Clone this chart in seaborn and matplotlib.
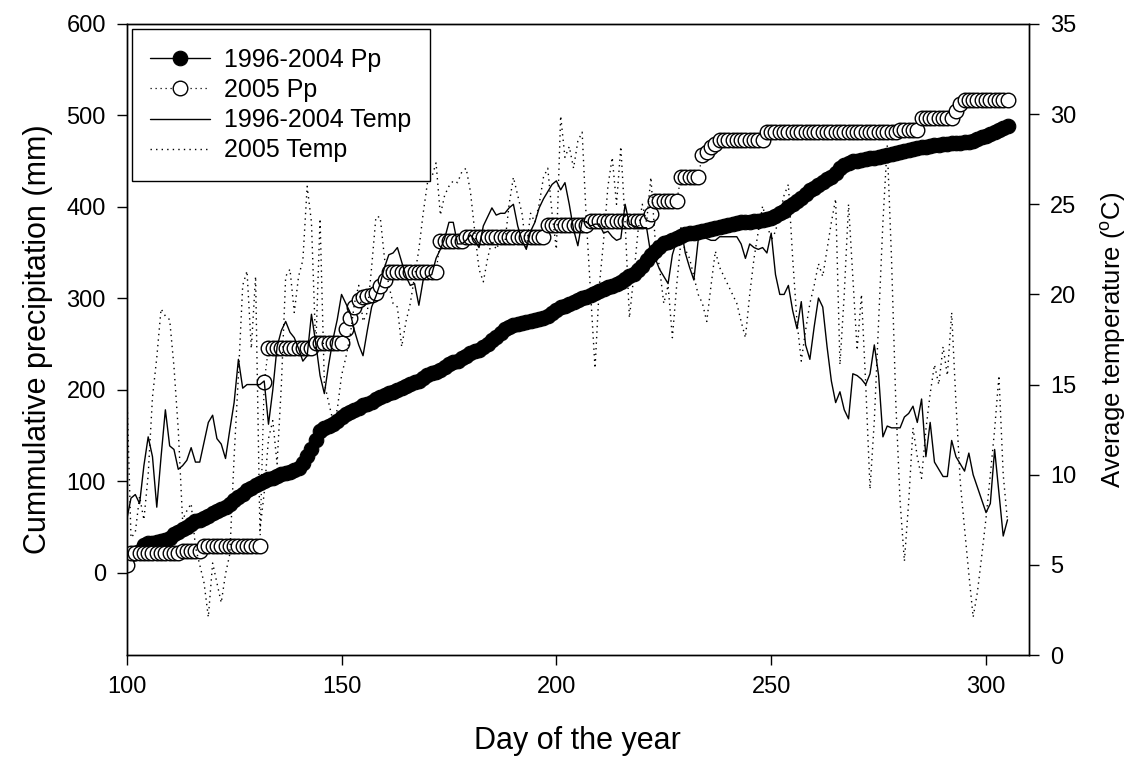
import matplotlib
matplotlib.use("Agg")
import matplotlib.pyplot as plt
import seaborn as sns

days = list(range(100, 306))

# 1996-2004 mean cumulative precipitation (mm)
pp_mean = [
    18, 20, 22, 24, 30, 32, 33, 34, 35, 36,
    38, 42, 45, 48, 50, 53, 56, 58, 60, 62,
    65, 67, 70, 72, 75, 80, 83, 86, 90, 93,
    96, 98, 100, 102, 104, 106, 108, 109, 110, 112,
    115, 120, 128, 135, 145, 155, 158, 160, 163, 166,
    170, 173, 176, 178, 180, 183, 185, 187, 190, 192,
    194, 196, 198, 200, 202, 204, 206, 208, 210, 213,
    216, 218, 220, 222, 225, 228, 230, 232, 235, 237,
    240, 242, 244, 247, 250, 254, 258, 262, 266, 269,
    271, 272, 273, 274, 275, 276, 277, 279, 281, 284,
    287, 290, 292, 294, 296, 298, 300, 302, 304, 306,
    308, 310, 312, 314, 316, 318, 321, 324, 327, 331,
    335, 342, 347, 352, 356, 360, 362, 364, 366, 368,
    370, 371, 372, 373, 374, 375, 376, 377, 378, 379,
    380, 381, 382, 383, 383, 384, 385, 385, 386, 387,
    388, 390, 393, 396, 400, 403, 406, 410, 414, 418,
    421, 424, 427, 430, 433, 437, 442, 446, 448, 450,
    450, 451, 452, 453, 454, 455, 456, 457, 458, 459,
    460, 461, 462, 463, 464, 465, 466, 467, 468, 468,
    469, 469, 470, 470, 470, 471, 471, 472, 474, 476,
    478, 480, 482, 484, 486, 488,
]

# 2005 cumulative precipitation (mm)
pp_2005 = [
    8, 21, 21, 21, 21, 22, 22, 22, 22, 22,
    22, 22, 22, 24, 24, 24, 24, 24, 29, 29,
    29, 29, 29, 29, 29, 29, 29, 29, 29, 29,
    29, 29, 208, 246, 246, 246, 246, 246, 246, 246,
    246, 246, 246, 246, 251, 251, 251, 251, 251, 251,
    251, 266, 278, 290, 298, 302, 303, 304, 306, 314,
    320, 329, 329, 329, 329, 329, 329, 329, 329, 329,
    329, 329, 329, 363, 363, 363, 363, 363, 363, 367,
    367, 367, 367, 367, 367, 367, 367, 367, 367, 367,
    367, 367, 367, 367, 367, 367, 367, 367, 380, 380,
    380, 380, 380, 380, 380, 380, 380, 380, 385, 385,
    385, 385, 385, 385, 385, 385, 385, 385, 385, 385,
    385, 385, 392, 406, 406, 406, 406, 406, 406, 433,
    433, 433, 433, 433, 457, 460, 465, 469, 473, 473,
    473, 473, 473, 473, 473, 473, 473, 473, 473, 482,
    482, 482, 482, 482, 482, 482, 482, 482, 482, 482,
    482, 482, 482, 482, 482, 482, 482, 482, 482, 482,
    482, 482, 482, 482, 482, 482, 482, 482, 482, 482,
    484, 484, 484, 484, 484, 497, 497, 497, 497, 497,
    497, 497, 497, 505, 512, 517, 517, 517, 517, 517,
    517, 517, 517, 517, 517, 517,
]

# 1996-2004 mean daily temperature (C)
temp_mean = [
    7.5, 8.7, 8.9, 8.4, 10.5, 12.1, 11.0, 8.2, 11.0, 13.6,
    11.6, 11.4, 10.3, 10.5, 10.8, 11.5, 10.7, 10.7, 11.8, 12.9,
    13.3, 12.0, 11.7, 10.9, 12.5, 14.0, 16.4, 14.8, 15.0, 15.0,
    15.0, 15.0, 15.2, 12.8, 14.7, 17.1, 18.0, 18.5, 17.9, 17.6,
    17.0, 16.3, 16.6, 18.9, 17.3, 15.5, 14.5, 16.1, 17.5, 18.6,
    20.0, 19.5, 19.0, 18.0, 17.2, 16.6, 18.0, 19.3, 19.9, 20.6,
    21.5, 22.2, 22.3, 22.6, 21.8, 21.0, 20.5, 20.6, 19.4, 20.8,
    21.0, 21.1, 22.0, 22.5, 23.1, 24.0, 24.0, 22.8, 22.8, 23.0,
    23.3, 23.0, 22.6, 23.8, 24.3, 24.8, 24.4, 24.5, 24.5, 24.8,
    25.0, 23.8, 23.0, 22.5, 23.5, 24.0, 24.8, 25.3, 25.7, 26.1,
    26.3, 25.8, 26.2, 25.0, 23.6, 22.7, 24.1, 24.0, 23.8, 23.9,
    23.9, 23.4, 23.5, 23.2, 23.0, 23.1, 25.0, 23.9, 23.8, 23.7,
    23.7, 23.7, 22.2, 22.0, 21.4, 21.0, 20.6, 22.2, 23.0, 23.7,
    22.3, 21.5, 20.8, 23.0, 23.2, 23.1, 23.0, 23.0, 23.2, 23.2,
    23.2, 23.2, 23.2, 22.8, 22.0, 22.8, 22.6, 22.5, 22.6, 22.3,
    23.4, 21.1, 20.0, 20.0, 20.5, 19.1, 18.1, 19.6, 17.2, 16.4,
    18.2, 19.8, 19.3, 17.1, 15.2, 14.0, 14.6, 13.6, 13.1, 15.6,
    15.5, 15.3, 15.0, 15.6, 17.2, 15.5, 12.1, 12.7, 12.6, 12.6,
    12.6, 13.2, 13.4, 13.8, 12.9, 14.2, 11.0, 12.9, 10.7, 10.3,
    9.9, 9.9, 11.9, 11.0, 10.6, 10.2, 11.2, 10.0, 9.3, 8.6,
    7.9, 8.4, 11.4, 9.0, 6.6, 7.5,
]

# 2005 daily temperature (C)
temp_2005 = [
    15.0, 6.5, 6.8, 8.8, 7.5, 10.0, 14.3, 16.5, 19.2, 18.8,
    18.6, 16.0, 12.5, 7.5, 8.0, 8.4, 6.0, 5.0, 4.0, 2.1,
    5.1, 4.0, 2.9, 4.5, 5.6, 11.0, 15.5, 20.5, 21.3, 17.0,
    21.0, 6.9, 9.0, 12.0, 13.0, 10.6, 15.0, 21.0, 21.4, 19.0,
    21.0, 21.9, 26.0, 24.0, 17.0, 24.2, 15.1, 14.0, 13.0, 13.6,
    15.5, 16.5, 17.7, 19.5, 20.5, 18.5, 19.0, 21.5, 24.3, 24.3,
    22.0, 20.5, 19.5, 19.3, 17.1, 18.5, 19.5, 21.0, 22.5, 24.5,
    26.2, 26.5, 27.3, 24.4, 25.5, 26.0, 26.3, 26.2, 26.8, 27.0,
    25.7, 23.5, 21.4, 20.7, 22.0, 23.0, 22.5, 23.0, 22.8, 25.0,
    26.5, 25.5, 24.5, 22.5, 24.5, 24.0, 25.0, 26.5, 27.0, 24.5,
    22.5, 29.9, 27.6, 28.2, 27.0, 28.5, 29.0, 24.0, 20.0, 15.9,
    20.5, 23.0, 26.0, 27.6, 25.0, 28.2, 24.0, 18.7, 21.0, 23.5,
    25.0, 24.0, 26.5, 23.0, 21.5, 19.5, 20.5, 17.6, 20.5, 23.0,
    22.5, 22.0, 21.0, 20.0, 19.5, 18.5, 20.5, 22.4, 21.5, 21.0,
    20.5, 20.0, 19.5, 18.5, 17.6, 20.0, 22.0, 23.5, 24.9, 24.0,
    23.0, 23.5, 24.5, 25.5, 26.1, 22.0, 18.5, 16.3, 18.0, 19.5,
    20.5, 21.7, 21.0, 22.5, 24.0, 25.3, 16.1, 20.0, 25.0, 21.0,
    16.9, 20.0, 15.0, 9.2, 13.0, 18.5, 24.0, 28.3, 22.0, 14.0,
    8.5, 5.2, 8.5, 12.6, 11.0, 9.8, 12.5, 14.5, 16.1, 15.0,
    17.1, 15.5, 19.0, 14.0, 9.6, 7.0, 4.5, 2.1, 3.5, 5.5,
    7.6, 10.0, 12.5, 15.5, 10.0, 7.4,
]

labels = ["1996-2004 Pp", "2005 Pp", "1996-2004 Temp", "2005 Temp"]

sns.set_style("ticks")
plt.rcParams["font.family"] = ["Liberation Sans", "DejaVu Sans"]
plt.rcParams["mathtext.default"] = "regular"
for key in ("text.color", "axes.labelcolor", "xtick.color", "ytick.color",
            "axes.edgecolor"):
    plt.rcParams[key] = "black"

fig = plt.figure(figsize=(11.33, 7.59), dpi=100)
ax = fig.add_axes([126.7 / 1133, 1 - 655 / 759, 902.3 / 1133, 631 / 759])
ax2 = ax.twinx()

dots = (0, (1, 3))

sns.lineplot(x=days, y=pp_mean, ax=ax, estimator=None, color="black",
             linewidth=1, marker="o", markersize=10.5, markerfacecolor="black",
             markeredgecolor="black", markeredgewidth=0.8)
sns.lineplot(x=days, y=pp_2005, ax=ax, estimator=None, color="black",
             linewidth=0.9, linestyle=dots, marker="o", markersize=10.5,
             markerfacecolor="white", markeredgecolor="black",
             markeredgewidth=1.0)
sns.lineplot(x=days, y=temp_mean, ax=ax2, estimator=None, color="black",
             linewidth=1.0)
sns.lineplot(x=days, y=temp_2005, ax=ax2, estimator=None, color="black",
             linewidth=1.0, linestyle=dots)

ax.set_xlim(100, 310)
ax.set_ylim(-90, 600)
ax2.set_ylim(0, 35)
ax.set_xticks([100, 150, 200, 250, 300])
ax.set_yticks([0, 100, 200, 300, 400, 500, 600])
ax2.set_yticks([0, 5, 10, 15, 20, 25, 30, 35])

for a in (ax, ax2):
    a.tick_params(direction="out", length=7, width=1, labelsize=17,
                  pad=8, colors="black")
    for s in a.spines.values():
        s.set_visible(True)
        s.set_linewidth(1)
        s.set_color("black")

ax.set_xlabel("Day of the year", fontsize=22)
ax.set_ylabel("Cummulative precipitation (mm)", fontsize=22)
ax2.set_ylabel("Average temperature ($^{o}$C)", fontsize=18.5)
ax.xaxis.set_label_coords(0.5, -0.112)
ax.yaxis.set_label_coords(-0.082, 0.5)
ax2.yaxis.set_label_coords(1.078, 0.5)

handles = ax.lines[:2] + ax2.lines[:2]
leg = ax2.legend(handles, labels, loc="upper left", bbox_to_anchor=(0, 1),
                 borderaxespad=0.2, fontsize=18, frameon=True, fancybox=False,
                 framealpha=1, edgecolor="black", handlelength=2.4,
                 handletextpad=0.55, labelspacing=0.25, borderpad=0.75)
leg.get_frame().set_linewidth(1)

fig.savefig("out.png", dpi=100)
